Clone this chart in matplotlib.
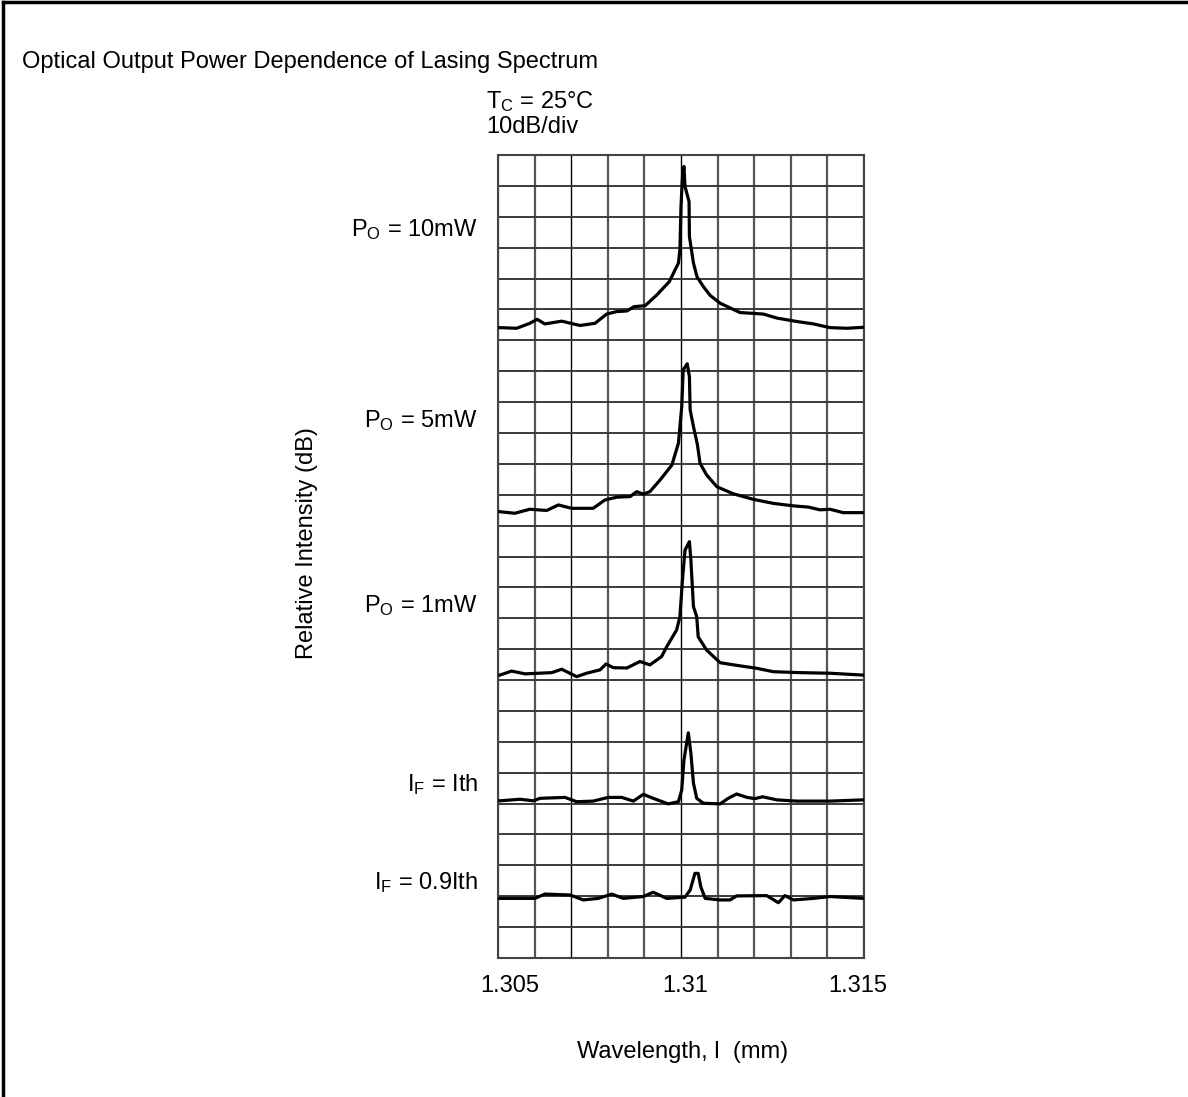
import matplotlib
matplotlib.use('Agg')
import matplotlib.pyplot as plt

plt.rcParams['font.family'] = ['Liberation Sans', 'DejaVu Sans']
plt.rcParams['mathtext.fontset'] = 'custom'
plt.rcParams['mathtext.rm'] = 'Liberation Sans'
plt.rcParams['mathtext.it'] = 'Liberation Sans'

# wavelength (um) and level (grid divisions, 10 dB/div)
wl_10mw = [1.30505, 1.30551, 1.30587, 1.30607, 1.30628, 1.30674, 1.30724, 1.30765,
           1.30797, 1.30824, 1.30852, 1.30872, 1.30902, 1.30934, 1.30968, 1.30993,
           1.30997, 1.31000, 1.31004, 1.31008, 1.31011, 1.31022, 1.31023, 1.31034,
           1.31044, 1.31061, 1.31080, 1.31107, 1.31161, 1.31225, 1.31262, 1.31316,
           1.31362, 1.31407, 1.31453, 1.31498]
lv_10mw = [20.41, 20.39, 20.55, 20.68, 20.53, 20.62, 20.48, 20.55,
           20.85, 20.93, 20.95, 21.09, 21.12, 21.47, 21.90, 22.50,
           22.93, 24.33, 25.30, 25.63, 24.98, 24.49, 23.36, 22.50,
           22.05, 21.74, 21.45, 21.20, 20.90, 20.85, 20.72, 20.61,
           20.53, 20.41, 20.39, 20.42]

wl_5mw = [1.30505, 1.30546, 1.30587, 1.30633, 1.30665, 1.30701, 1.30760, 1.30792,
          1.30824, 1.30861, 1.30879, 1.30897, 1.30915, 1.30943, 1.30975, 1.30993,
          1.31002, 1.31006, 1.31017, 1.31023, 1.31025, 1.31034, 1.31045, 1.31052,
          1.31070, 1.31098, 1.31143, 1.31198, 1.31252, 1.31307, 1.31348, 1.31380,
          1.31407, 1.31443, 1.31498]
lv_5mw = [14.45, 14.40, 14.53, 14.49, 14.67, 14.56, 14.56, 14.83,
          14.92, 14.94, 15.10, 15.02, 15.10, 15.48, 15.96, 16.67,
          17.85, 19.04, 19.24, 18.82, 17.75, 17.21, 16.61, 16.02,
          15.64, 15.26, 15.03, 14.85, 14.72, 14.64, 14.60, 14.51,
          14.53, 14.42, 14.42]

wl_1mw = [1.30505, 1.30537, 1.30574, 1.30647, 1.30674, 1.30715, 1.30742, 1.30779,
          1.30795, 1.30815, 1.30852, 1.30888, 1.30915, 1.30947, 1.30961, 1.30988,
          1.30997, 1.31004, 1.31011, 1.31023, 1.31027, 1.31034, 1.31043, 1.31047,
          1.31070, 1.31107, 1.31161, 1.31207, 1.31252, 1.31325, 1.31407, 1.31498]
lv_1mw = [9.16, 9.29, 9.20, 9.24, 9.35, 9.11, 9.22, 9.33,
          9.52, 9.40, 9.39, 9.60, 9.49, 9.76, 10.08, 10.62,
          11.05, 12.24, 13.21, 13.48, 12.89, 11.38, 11.05, 10.40,
          9.97, 9.56, 9.46, 9.38, 9.27, 9.24, 9.22, 9.16]

wl_ith = [1.30505, 1.30560, 1.30596, 1.30615, 1.30683, 1.30715, 1.30760, 1.30801,
          1.30838, 1.30870, 1.30897, 1.30924, 1.30965, 1.30993, 1.31002, 1.31008,
          1.31020, 1.31027, 1.31034, 1.31043, 1.31061, 1.31107, 1.31129, 1.31152,
          1.31180, 1.31202, 1.31223, 1.31262, 1.31316, 1.31407, 1.31498]
lv_ith = [5.09, 5.14, 5.09, 5.17, 5.20, 5.06, 5.08, 5.20,
          5.20, 5.08, 5.30, 5.17, 4.99, 5.06, 5.44, 6.41,
          7.29, 6.63, 5.66, 5.17, 5.01, 4.99, 5.17, 5.31,
          5.20, 5.16, 5.22, 5.12, 5.08, 5.08, 5.12]

wl_09ith = [1.30505, 1.30601, 1.30628, 1.30697, 1.30733, 1.30774, 1.30811, 1.30842,
            1.30897, 1.30924, 1.30961, 1.31011, 1.31025, 1.31038, 1.31047, 1.31054,
            1.31066, 1.31107, 1.31134, 1.31152, 1.31234, 1.31251, 1.31266, 1.31284,
            1.31307, 1.31362, 1.31407, 1.31498]
lv_09ith = [1.93, 1.93, 2.07, 2.04, 1.88, 1.93, 2.07, 1.93,
            1.99, 2.13, 1.93, 1.97, 2.20, 2.74, 2.74, 2.31,
            1.93, 1.88, 1.88, 2.01, 2.02, 1.90, 1.79, 2.02,
            1.88, 1.93, 1.99, 1.93]

curves = [(wl_10mw, lv_10mw), (wl_5mw, lv_5mw), (wl_1mw, lv_1mw),
          (wl_ith, lv_ith), (wl_09ith, lv_09ith)]
labels = [r'$\mathregular{P_O}$ = 10mW', r'$\mathregular{P_O}$ = 5mW',
          r'$\mathregular{P_O}$ = 1mW', r'$\mathregular{I_F}$ = Ith',
          r'$\mathregular{I_F}$ = 0.9Ith']
label_y = [23.6, 17.4, 11.4, 5.6, 2.45]
tick_labels = ['1.305', '1.31', '1.315']
n_div = 26
fs = 17

fig = plt.figure(figsize=(11.88, 10.97), dpi=100)
W, H = 1188, 1097
ax = fig.add_axes([498 / W, 1 - 958 / H, 366 / W, 803 / H])

# grid
for i in range(11):
    x = 1.305 + i * 0.001
    c = 'black' if i in (2, 5) else '#555555'
    lw = 1.0 if i in (2, 5) else 1.6
    ax.axvline(x, color=c, lw=lw, zorder=1)
for j in range(n_div + 1):
    ax.axhline(j, color='#3a3a3a', lw=1.4, zorder=1)

for wl, lv in curves:
    ax.plot(wl, lv, color='black', lw=2.3, zorder=3, solid_joinstyle='round')

ax.set_xlim(1.305, 1.315)
ax.set_ylim(0, n_div)
ax.set_xticks([])
ax.set_yticks([])
for s in ax.spines.values():
    s.set_color('#444444')
    s.set_linewidth(1.5)

for lab, y in zip(labels, label_y):
    ax.text(-0.055, y, lab, transform=ax.get_yaxis_transform(),
            ha='right', va='center', fontsize=fs)

# tick labels sit a little off the grid lines in the original
for lab, fx in zip(tick_labels, [0.033, 0.511, 0.984]):
    ax.text(fx, -0.035, lab, transform=ax.transAxes, ha='center', va='center',
            fontsize=fs)

fig.text(22 / W, 1 - 62 / H, 'Optical Output Power Dependence of Lasing Spectrum',
         ha='left', va='center', fontsize=fs)
fig.text(486 / W, 1 - 102 / H, r'$\mathregular{T_C}$ = 25°C', ha='left',
         va='center', fontsize=fs)
fig.text(486 / W, 1 - 127 / H, '10dB/div', ha='left', va='center', fontsize=fs)
fig.text(307 / W, 1 - 543 / H, 'Relative Intensity (dB)', rotation=90,
         ha='center', va='center', fontsize=fs)
fig.text(683 / W, 1 - 1052 / H, 'Wavelength, l  (mm)', ha='center',
         va='center', fontsize=fs)

# page frame: top and left edges
fig.add_artist(plt.Line2D([3 / W, 3 / W], [0, 1 - 2 / H], color='black', lw=2.5))
fig.add_artist(plt.Line2D([3 / W, 1], [1 - 2 / H, 1 - 2 / H], color='black', lw=2.5))

fig.savefig('out.png', dpi=100)
